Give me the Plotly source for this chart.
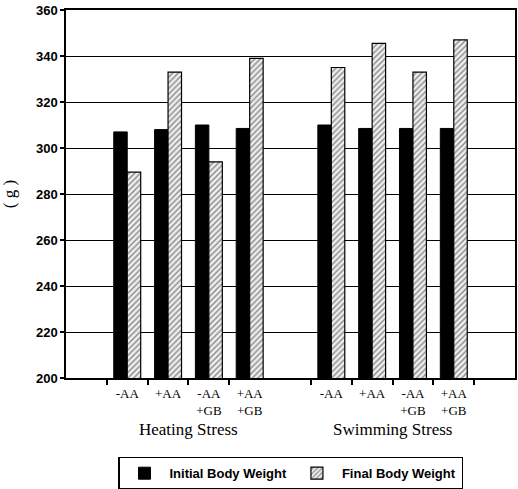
import plotly.graph_objects as go

# ---- data ----
categories = ["", "H-AA", "H+AA", "H-AA+GB", "H+AA+GB", " ",
              "S-AA", "S+AA", "S-AA+GB", "S+AA+GB", "  "]
tick_ids = ["H-AA", "H+AA", "H-AA+GB", "H+AA+GB",
            "S-AA", "S+AA", "S-AA+GB", "S+AA+GB"]
tick_labels = ["-AA", "+AA", "-AA<br>+GB", "+AA<br>+GB",
               "-AA", "+AA", "-AA<br>+GB", "+AA<br>+GB"]
initial_weight = [None, 307, 308, 310, 308.5, None, 310, 308.5, 308.5, 308.5, None]
final_weight = [None, 289.5, 333, 294, 339, None, 335, 345.5, 333, 347, None]
group_labels = ["Heating Stress", "Swimming Stress"]
group_centers = [2.5, 7.5]
y_ticks = [200, 220, 240, 260, 280, 300, 320, 340, 360]

fig = go.Figure()
fig.add_trace(go.Bar(
    x=categories, y=initial_weight, name="Initial Body Weight",
    marker=dict(color="black", line=dict(color="black", width=1)),
))
fig.add_trace(go.Bar(
    x=categories, y=final_weight, name="Final Body Weight",
    marker=dict(color="#e8e8e8", line=dict(color="black", width=1.2),
                pattern=dict(shape="/", fgcolor="#222", bgcolor="#eeeeee",
                             size=4, solidity=0.35)),
))

for lbl, cx in zip(group_labels, group_centers):
    fig.add_annotation(x=cx, y=-0.11, xref="x", yref="paper", text=lbl,
                       showarrow=False, yanchor="top",
                       font=dict(family="Liberation Serif", size=17, color="black"))

fig.update_layout(
    width=518, height=489,
    margin=dict(l=66, r=3, t=10, b=111, autoexpand=False),
    paper_bgcolor="white", plot_bgcolor="white",
    barmode="group", bargap=0.34, bargroupgap=0.0,
    showlegend=True,
    legend=dict(orientation="h", x=0.5, xanchor="center",
                yref="container", y=0.066, yanchor="top",
                bordercolor="black", borderwidth=1.5,
                font=dict(family="Liberation Sans", size=13, color="black", weight="bold"),
                itemwidth=40, tracegroupgap=0),
    font=dict(family="Liberation Sans", color="black"),
)
fig.update_xaxes(
    type="category", categoryorder="array", categoryarray=categories,
    range=[-0.5, len(categories) - 0.5], automargin=False,
    tickvals=tick_ids, ticktext=tick_labels, ticklabelstandoff=3,
    tickson="boundaries", ticks="outside", ticklen=5, tickcolor="black", tickwidth=1.5,
    showline=True, linecolor="black", linewidth=1.5, mirror=True,
    showgrid=False,
    tickfont=dict(family="Liberation Serif", size=13, color="black"),
)
fig.update_yaxes(
    range=[200, 360], tickvals=y_ticks, automargin=False,
    ticks="outside", ticklen=4, tickcolor="black", tickwidth=1.5,
    showline=True, linecolor="black", linewidth=1.5, mirror=True,
    showgrid=True, gridcolor="black", gridwidth=1,
    tickfont=dict(family="Liberation Sans", size=13, color="black", weight="bold"),
    title=dict(text="( g )", standoff=16,
               font=dict(family="Liberation Serif", size=17, color="black")),
)

fig.write_html("out.html", config={"displayModeBar": False},
               post_script="document.body.style.margin='0';document.body.style.overflow='hidden';")
